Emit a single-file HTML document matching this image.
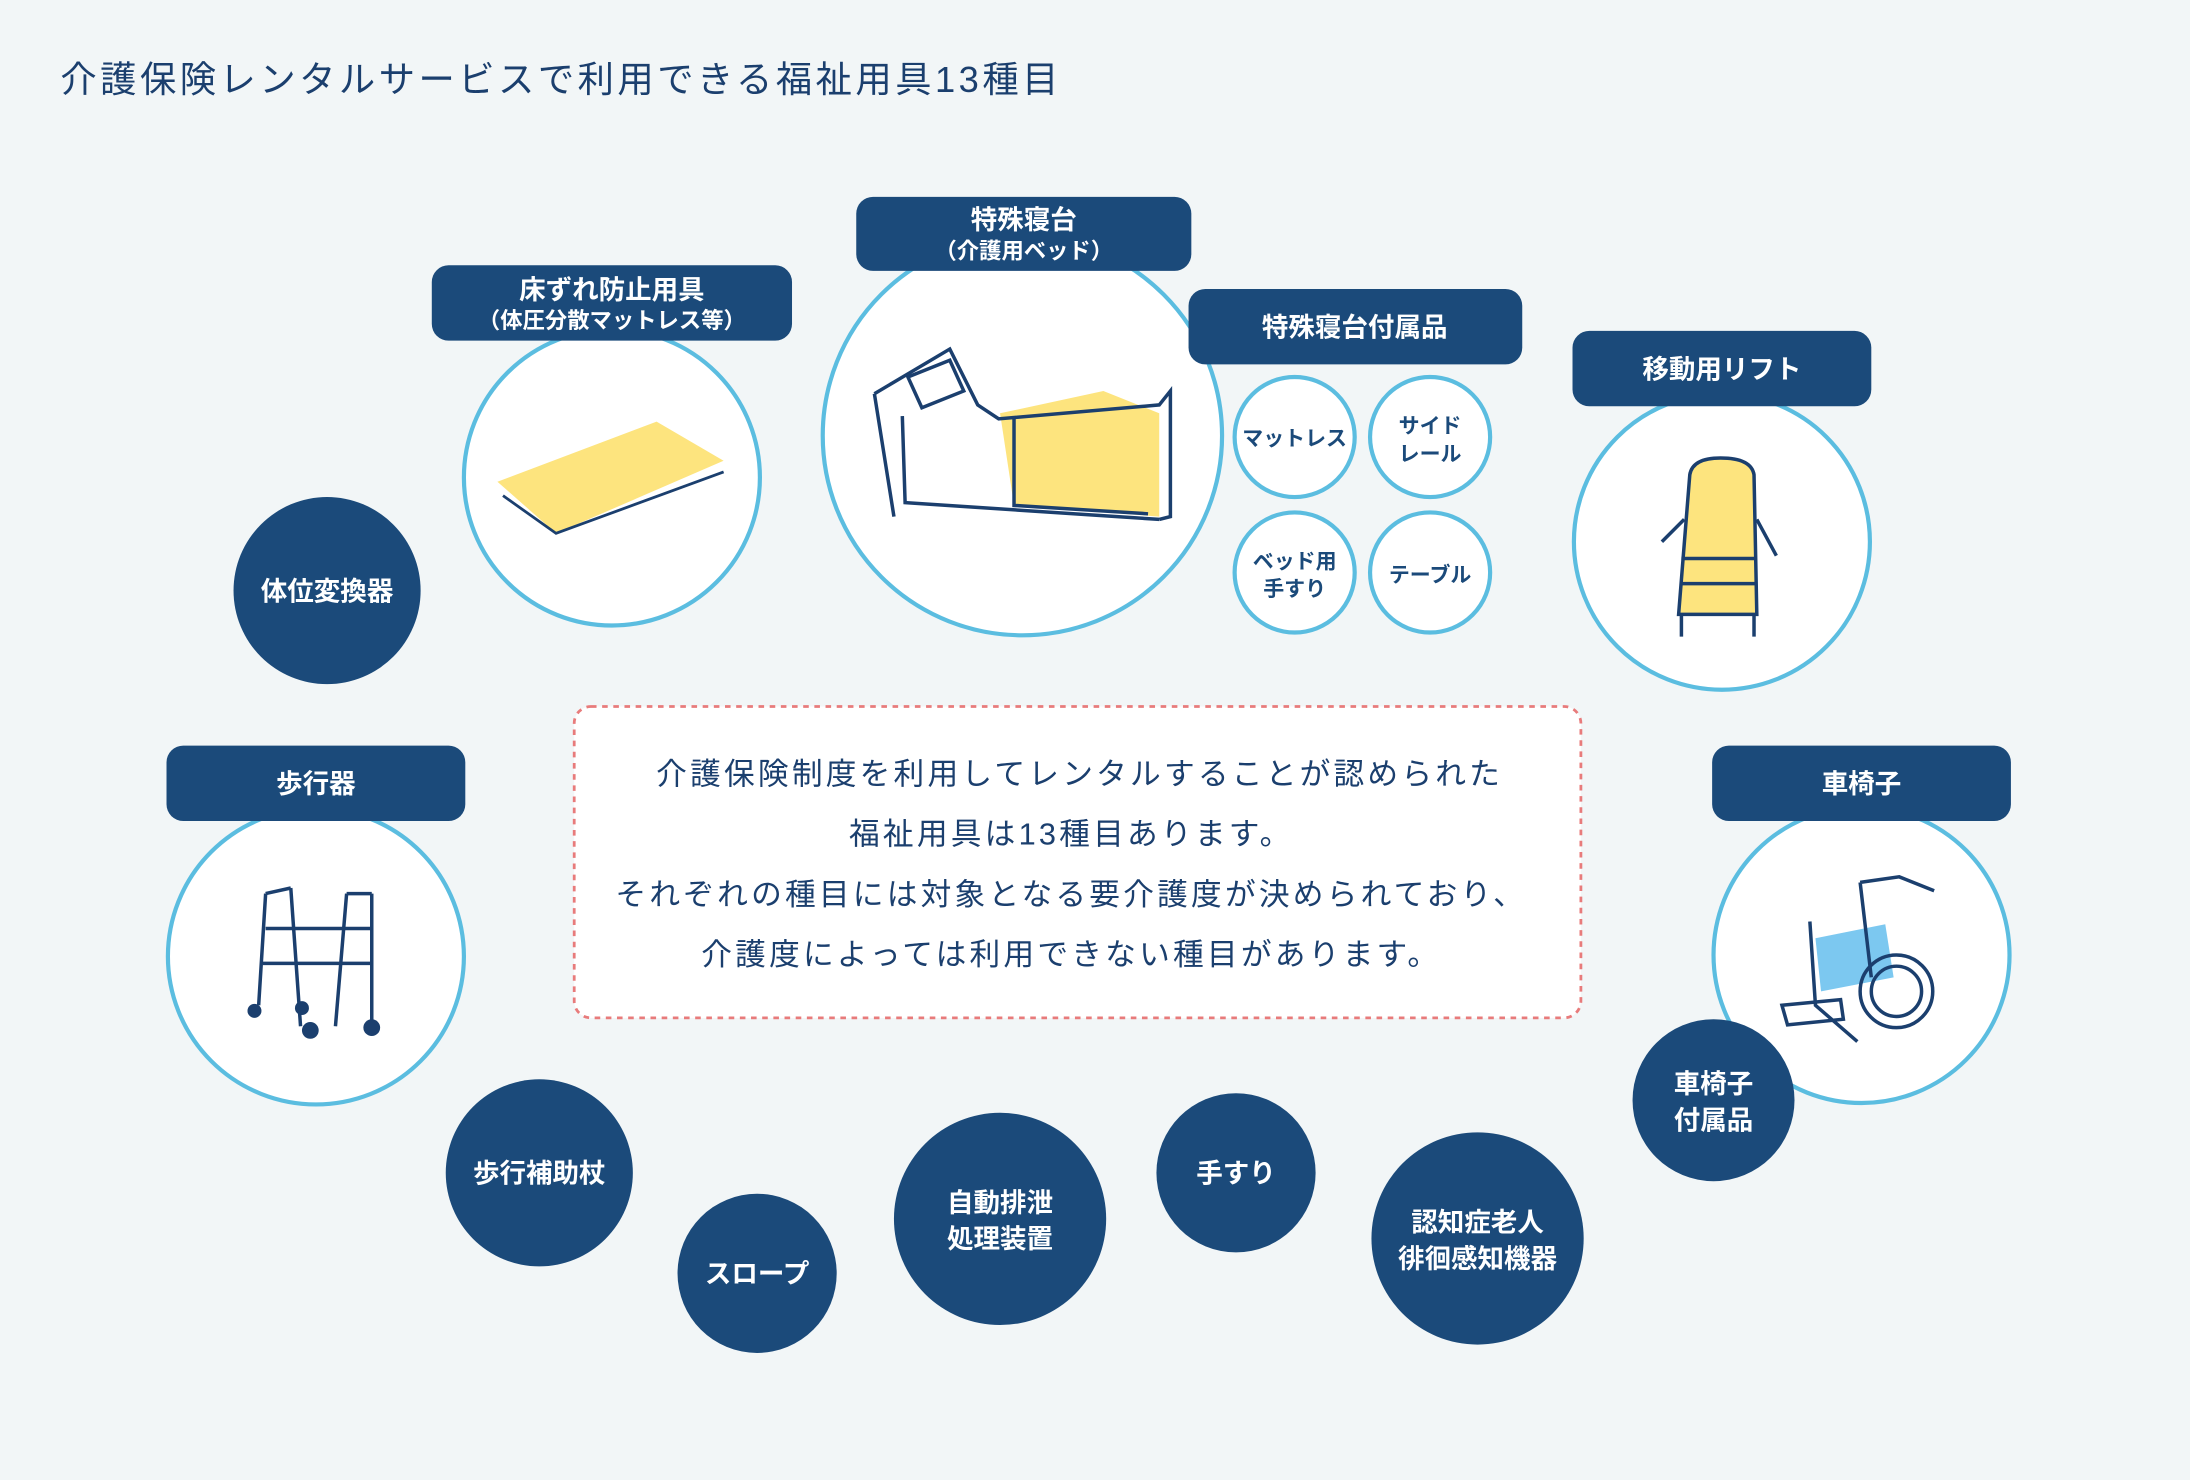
<!DOCTYPE html>
<html><head><meta charset="utf-8"><style>
html,body{margin:0;padding:0;background:#f2f6f7;}
svg{display:block;}
text{font-family:"Liberation Sans","Noto Sans CJK JP",sans-serif;}
</style></head><body>
<svg width="2190" height="1480" viewBox="0 0 1568 1060" xmlns="http://www.w3.org/2000/svg">
<rect width="1568" height="1060" fill="#f2f6f7"/>
<text x="43" y="66" font-size="26" letter-spacing="2.5" fill="#1b3f6e">介護保険レンタルサービスで利用できる福祉用具13種目</text>

<g fill="#fff" stroke="#5bbde0" stroke-width="3">
<circle cx="438" cy="342" r="106"/>
<circle cx="732" cy="312" r="143"/>
<circle cx="1233" cy="388" r="106"/>
<circle cx="226" cy="685" r="106"/>
<circle cx="1333" cy="684" r="106"/>
<circle cx="927" cy="313" r="43"/>
<circle cx="1024" cy="313" r="43"/>
<circle cx="927" cy="410" r="43"/>
<circle cx="1024" cy="410" r="43"/>
</g>

<g fill="#1b4a7a">
<rect x="309" y="190" width="258" height="54" rx="12"/>
<rect x="613" y="141" width="240" height="53" rx="12"/>
<rect x="851" y="207" width="239" height="54" rx="12"/>
<rect x="1126" y="237" width="214" height="54" rx="12"/>
<rect x="119" y="534" width="214" height="54" rx="12"/>
<rect x="1226" y="534" width="214" height="54" rx="12"/>
<circle cx="234" cy="423" r="67"/>
<circle cx="1227" cy="788" r="58"/>
<circle cx="386" cy="840" r="67"/>
<circle cx="542" cy="912" r="57"/>
<circle cx="716" cy="873" r="76"/>
<circle cx="885" cy="840" r="57"/>
<circle cx="1058" cy="887" r="76"/>
</g>
<g fill="#fff" font-weight="bold" text-anchor="middle">
<text x="438" y="214" font-size="19">床ずれ防止用具</text>
<text x="438" y="235" font-size="16">（体圧分散マットレス等）</text>
<text x="733" y="164" font-size="19">特殊寝台</text>
<text x="733" y="185" font-size="16">（介護用ベッド）</text>
<text x="970" y="241" font-size="19">特殊寝台付属品</text>
<text x="1233" y="271" font-size="19">移動用リフト</text>
<text x="226" y="568" font-size="19">歩行器</text>
<text x="1333" y="568" font-size="19">車椅子</text>
<text x="234" y="430" font-size="19">体位変換器</text>
<text x="1227" y="783" font-size="19">車椅子</text>
<text x="1227" y="809" font-size="19">付属品</text>
<text x="386" y="847" font-size="19">歩行補助杖</text>
<text x="542" y="919" font-size="19">スロープ</text>
<text x="716" y="868" font-size="19">自動排泄</text>
<text x="716" y="894" font-size="19">処理装置</text>
<text x="885" y="847" font-size="19">手すり</text>
<text x="1058" y="882" font-size="19">認知症老人</text>
<text x="1058" y="908" font-size="19">徘徊感知機器</text>
</g>
<g fill="#1b4a7a" font-weight="bold" text-anchor="middle" font-size="15">
<text x="927" y="319">マットレス</text>
<text x="1024" y="310">サイド</text>
<text x="1024" y="330">レール</text>
<text x="927" y="407">ベッド用</text>
<text x="927" y="427">手すり</text>
<text x="1024" y="417">テーブル</text>
</g>

<rect x="411" y="506" width="721" height="223" rx="12" fill="#fff" stroke="#e87b7b" stroke-width="2" stroke-dasharray="4 4"/>
<g fill="#1b3f6e" font-size="22" text-anchor="middle" letter-spacing="2.3">
<text x="773" y="562">介護保険制度を利用してレンタルすることが認められた</text>
<text x="767" y="605">福祉用具は13種目あります。</text>
<text x="767" y="648">それぞれの種目には対象となる要介護度が決められており、</text>
<text x="767" y="691">介護度によっては利用できない種目があります。</text>
</g>

<polygon points="356,345 470,302 518,330 398,382" fill="#fde47e"/>
<path d="M360,355 L398,382 L518,338" fill="none" stroke="#1b3f6e" stroke-width="2"/>

<g fill="none" stroke="#1b3f6e" stroke-width="2.5">
<polygon points="716,296 790,280 830,296 830,370 726,362" fill="#fde47e" stroke="none"/>
<path d="M626,282 L680,250 L700,290 L715,300 L830,290 L838,280 L838,370 L830,372"/>
<path d="M626,282 L640,370 M646,298 L648,360 L830,372"/>
<path d="M650,270 L680,258 L690,280 L660,292 Z"/>
<path d="M726,298 L726,362 L822,368"/>
</g>

<g fill="none" stroke="#1b3f6e" stroke-width="2.5">
<path d="M1210,340 Q1212,328 1232,328 Q1254,328 1256,340 L1258,440 L1202,440 Z" fill="#fde47e"/>
<path d="M1190,388 L1206,372 M1258,372 L1272,398"/>
<path d="M1204,400 L1258,400 M1204,418 L1258,418 M1204,440 L1204,456 M1256,440 L1256,456"/>
</g>

<g fill="none" stroke="#1b3f6e" stroke-width="2.5">
<path d="M190,640 L185,720 M208,636 L215,735 M248,640 L240,735 M266,640 L266,735"/>
<path d="M190,640 L208,636 M248,640 L266,640 M190,665 L266,665 M188,690 L266,690"/>
</g>
<g fill="#1b3f6e"><circle cx="182" cy="724" r="5"/><circle cx="222" cy="738" r="6"/><circle cx="266" cy="736" r="6"/><circle cx="216" cy="722" r="5"/></g>

<path d="M1300,672 L1350,662 L1356,700 L1304,710 Z" fill="#7cc8f0"/>
<g fill="none" stroke="#1b3f6e" stroke-width="2.5">
<path d="M1332,632 L1360,628 L1385,638 M1332,632 L1340,700 M1296,660 L1300,720 L1330,746"/>
<circle cx="1358" cy="710" r="26"/>
<circle cx="1358" cy="710" r="18"/>
<path d="M1276,720 L1318,716 L1320,730 L1280,734 Z"/>
</g>
</svg>
</body></html>
